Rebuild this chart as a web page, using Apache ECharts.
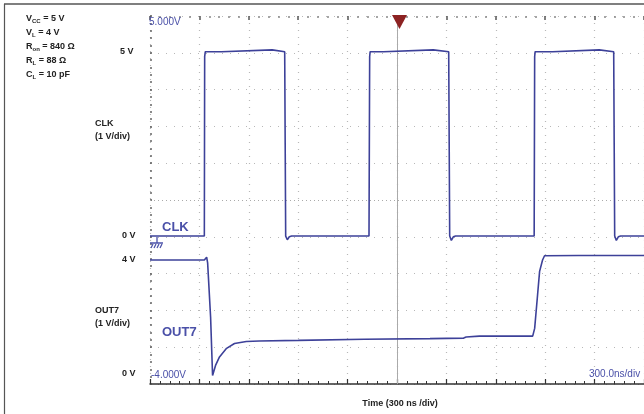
<!DOCTYPE html>
<html><head><meta charset="utf-8">
<script src="https://cdn.jsdelivr.net/npm/echarts@6/dist/echarts.min.js"></script>
<style>html,body{margin:0;padding:0;background:#fff}#c{width:644px;height:414px}</style>
</head><body><div id="c"></div>
<script>
// Time in ns (300 ns/div, 10 divisions)
const xTicks = [0,300,600,900,1200,1500,1800,2100,2400,2700,3000];
// CLK trace (V, 1 V/div)
const clkT = [0,330,332,336,435,437,742,745,818,821,824,834,846,860,1330,1334,1337,1418,1420,1720,1723,1814,1817,1820,1830,1842,1856,2333,2336,2339,2445,2448,2728,2731,2816,2819,2822,2832,2844,2858,3000];
const clkV = [0.02,0.02,4.9,5.03,5.03,5.08,5.08,5.03,5.03,2.5,0.02,-0.08,0,0.02,0.02,4.9,5.03,5.03,5.08,5.08,5.03,5.03,2.5,0.02,-0.1,0,0.02,0.02,4.9,5.03,5.03,5.08,5.08,5.03,5.03,2.5,0.02,-0.1,0,0.02,0.02];
// OUT7 trace (V, 1 V/div)
const outT = [0,330,344,350,368,380,398,422,465,513,585,664,900,1300,1700,1905,1913,1920,2000,2324,2336,2354,2366,2384,2396,2600,3000];
const outV = [4.0,4.0,4.1,3.9,2.0,-0.05,0.3,0.6,0.9,1.07,1.14,1.16,1.18,1.22,1.24,1.26,1.22,1.3,1.33,1.33,1.6,2.8,3.6,4.0,4.15,4.16,4.16];

const clkData = clkT.map((t,i)=>[t,clkV[i]]);
const outData = outT.map((t,i)=>[t,outV[i]]);

const chart = echarts.init(document.getElementById('c'), null, {renderer:'canvas'});
const trace = '#3d4199';
const blue = '#4a50a8';
const lab = {fontFamily:'Liberation Sans, Arial, sans-serif', fontWeight:'bold', fontSize:9, fill:'#222'};
function txt(x,y,s,extra){return {type:'text',x:x,y:y,style:Object.assign({},lab,{text:s,textVerticalAlign:'middle'},extra||{}),z:10};}
function sub(x,y,main,subs,rest){
  return {type:'text',x:x,y:y,z:10,style:{text:'{m|'+main+'}{s|'+subs+'}{m|'+rest+'}',textVerticalAlign:'middle',
    rich:{m:{fontFamily:'Liberation Sans, Arial, sans-serif',fontWeight:'bold',fontSize:9,fill:'#222'},
          s:{fontFamily:'Liberation Sans, Arial, sans-serif',fontWeight:'bold',fontSize:6,fill:'#222',padding:[5,0,0,0]}}}};
}
const bt = {fontFamily:'Liberation Sans, Arial, sans-serif', fill:blue};
chart.setOption({
  animation:false,
  grid:{left:150,top:16,right:-3,bottom:30},
  xAxis:[
    {type:'value',min:0,max:3000,interval:300,position:'bottom',
     axisLine:{show:true,onZero:false,lineStyle:{color:'#333',width:1.5}},
     axisTick:{show:true,inside:true,length:5,lineStyle:{color:'#333',width:1.2}},
     minorTick:{show:true,splitNumber:5,length:3,lineStyle:{color:'#333'}},
     axisLabel:{show:false},
     splitLine:{show:true,lineStyle:{color:'#b8b8b8',type:[1,6],width:1.2}}},
    {type:'value',min:0,max:3000,interval:300,position:'top',
     axisLine:{show:false,onZero:false},
     axisTick:{show:true,inside:true,length:4,lineStyle:{color:'#555',width:1.5}},
     minorTick:{show:true,splitNumber:5,length:2,lineStyle:{color:'#888',width:1.5}},
     axisLabel:{show:false},splitLine:{show:false}}
  ],
  yAxis:[
    {type:'value',min:-4,max:6,interval:1,
     axisLine:{show:false,onZero:false},
     axisTick:{show:true,inside:true,length:2,lineStyle:{color:'#555',width:1.5}},
     minorTick:{show:true,splitNumber:5,length:2,lineStyle:{color:'#666',width:1.5}},
     axisLabel:{show:false},
     splitLine:{show:true,lineStyle:{color:'#b8b8b8',type:[1,7],width:1.2}}},
    {type:'value',min:-0.351,max:12.561,show:false,splitLine:{show:false}}
  ],
  series:[
    {type:'line',xAxisIndex:0,yAxisIndex:0,data:[],silent:true,
     markLine:{silent:true,symbol:'none',label:{show:false},
       data:[{xAxis:1500,lineStyle:{color:'#aaa',type:'solid',width:1}},
             {yAxis:1,lineStyle:{color:'#aaa',type:[1,3],width:1.2}}]}},
    {name:'CLK',type:'line',xAxisIndex:0,yAxisIndex:0,data:clkData,showSymbol:false,
     lineStyle:{color:trace,width:1.6},z:5},
    {name:'OUT7',type:'line',xAxisIndex:0,yAxisIndex:1,data:outData,showSymbol:false,
     lineStyle:{color:trace,width:1.6},z:5}
  ],
  graphic:[
    {type:'line',shape:{x1:4,y1:4,x2:644,y2:4},style:{stroke:'#555',lineWidth:1.5}},
    {type:'line',shape:{x1:4.5,y1:4,x2:4.5,y2:414},style:{stroke:'#555',lineWidth:1.2}},
    sub(26,19,'V','CC',' = 5 V'),
    sub(26,33,'V','L',' = 4 V'),
    sub(26,47,'R','on',' = 840 Ω'),
    sub(26,61,'R','L',' = 88 Ω'),
    sub(26,75,'C','L',' = 10 pF'),
    txt(120,52,'5 V'),
    txt(95,124,'CLK'),
    txt(95,137,'(1 V/div)'),
    txt(122,236,'0 V'),
    txt(122,260,'4 V'),
    txt(95,311,'OUT7'),
    txt(95,324,'(1 V/div)'),
    txt(122,374,'0 V'),
    txt(400,404,'Time (300 ns /div)',{textAlign:'center'}),
    {type:'text',x:149,y:22,z:10,style:Object.assign({},bt,{text:'5.000V',fontSize:10,textVerticalAlign:'middle'})},
    {type:'text',x:151,y:375,z:10,style:Object.assign({},bt,{text:'-4.000V',fontSize:10,textVerticalAlign:'middle'})},
    {type:'text',x:589,y:374,z:10,style:Object.assign({},bt,{text:'300.0ns/div',fontSize:10,textVerticalAlign:'middle'})},
    {type:'text',x:162,y:227,z:10,style:Object.assign({},bt,{text:'CLK',fontSize:13,fontWeight:'bold',textVerticalAlign:'middle'})},
    {type:'text',x:162,y:332,z:10,style:Object.assign({},bt,{text:'OUT7',fontSize:13,fontWeight:'bold',textVerticalAlign:'middle'})},
    {type:'polygon',shape:{points:[[392,15],[407,15],[399.5,29]]},style:{fill:'#8c2222'},z:10},
    {type:'polyline',shape:{points:[[157,237],[157,243]]},style:{stroke:blue,lineWidth:1.3},z:10},
    {type:'polyline',shape:{points:[[150,243],[163,243]]},style:{stroke:blue,lineWidth:1.5},z:10},
    {type:'line',shape:{x1:153,y1:244,x2:151,y2:248},style:{stroke:blue,lineWidth:1.2},z:10},
    {type:'line',shape:{x1:156,y1:244,x2:154,y2:248},style:{stroke:blue,lineWidth:1.2},z:10},
    {type:'line',shape:{x1:159,y1:244,x2:157,y2:248},style:{stroke:blue,lineWidth:1.2},z:10},
    {type:'line',shape:{x1:162,y1:244,x2:160,y2:248},style:{stroke:blue,lineWidth:1.2},z:10}
  ]
});
</script></body></html>
